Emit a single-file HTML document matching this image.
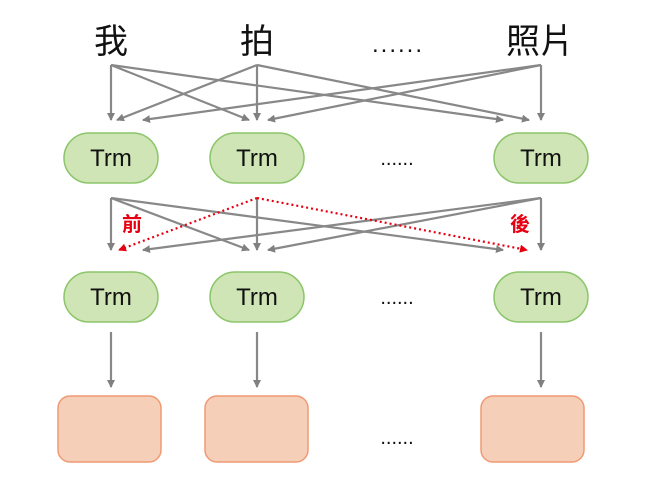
<!DOCTYPE html>
<html><head><meta charset="utf-8"><style>
html,body{margin:0;padding:0;background:#fff;}
</style></head><body>
<svg width="652" height="487" viewBox="0 0 652 487" xmlns="http://www.w3.org/2000/svg">
<defs>
<marker id="a" markerWidth="8" markerHeight="8" refX="7" refY="4" orient="auto" markerUnits="userSpaceOnUse"><path d="M0,0 L8,4 L0,8 z" fill="#808080"/></marker>
<marker id="r" markerWidth="8" markerHeight="8" refX="7" refY="4" orient="auto" markerUnits="userSpaceOnUse"><path d="M0,0 L8,4 L0,8 z" fill="#e60012"/></marker>
</defs>
<g font-family="Liberation Sans, Noto Sans CJK TC, sans-serif" font-size="34" fill="#111" text-anchor="middle">
<text x="111" y="53">我</text>
<text x="257" y="53">拍</text>
<text x="540" y="53">照片</text>
</g>
<g fill="#111" font-family="Liberation Sans, sans-serif" font-size="24" text-anchor="middle">
<text x="398" y="52" letter-spacing="2">......</text>
<text x="397" y="165" font-size="20">......</text>
<text x="397" y="304" font-size="20">......</text>
<text x="397" y="444" font-size="20">......</text>
</g>
<g stroke="#888" stroke-width="2.2" fill="none" marker-end="url(#a)">
<path d="M111,65 L111,120"/><path d="M111,65 L249,120"/><path d="M111,65 L503,120"/>
<path d="M257,65 L117,120"/><path d="M257,65 L257,120"/><path d="M257,65 L529,120"/>
<path d="M541,65 L143,120"/><path d="M541,65 L268,120"/><path d="M541,65 L541,120"/>
<path d="M111,198 L111,250"/><path d="M111,198 L249,250"/><path d="M111,198 L503,250"/>
<path d="M257,198 L257,250"/>
<path d="M541,198 L143,250"/><path d="M541,198 L268,250"/><path d="M541,198 L541,250"/>
<path d="M111,332 L111,387"/><path d="M257,332 L257,387"/><path d="M541,332 L541,387"/>
</g>
<g stroke="#e60012" stroke-width="2.2" fill="none" stroke-dasharray="2,3" marker-end="url(#r)">
<path d="M257,198 L119,250"/><path d="M257,198 L527,250"/>
</g>
<g font-family="Liberation Sans, Noto Sans CJK TC, sans-serif" font-size="20" font-weight="bold" fill="#e60012" text-anchor="middle">
<text x="132" y="231">前</text><text x="520" y="231">後</text>
</g>
<g fill="#cfe5b5" stroke="#8cc56a" stroke-width="1.5">
<rect x="64" y="133" width="94" height="50" rx="25"/>
<rect x="210" y="133" width="94" height="50" rx="25"/>
<rect x="494" y="133" width="94" height="50" rx="25"/>
<rect x="64" y="272" width="94" height="50" rx="25"/>
<rect x="210" y="272" width="94" height="50" rx="25"/>
<rect x="494" y="272" width="94" height="50" rx="25"/>
</g>
<g font-family="Liberation Sans, sans-serif" font-size="24" fill="#111" text-anchor="middle">
<text x="111" y="166">Trm</text><text x="257" y="166">Trm</text><text x="541" y="166">Trm</text>
<text x="111" y="305">Trm</text><text x="257" y="305">Trm</text><text x="541" y="305">Trm</text>
</g>
<g fill="#f6cfb8" stroke="#ef9a74" stroke-width="1.5">
<rect x="58" y="396" width="103" height="66" rx="12"/>
<rect x="205" y="396" width="103" height="66" rx="12"/>
<rect x="481" y="396" width="103" height="66" rx="12"/>
</g>
</svg>
</body></html>
